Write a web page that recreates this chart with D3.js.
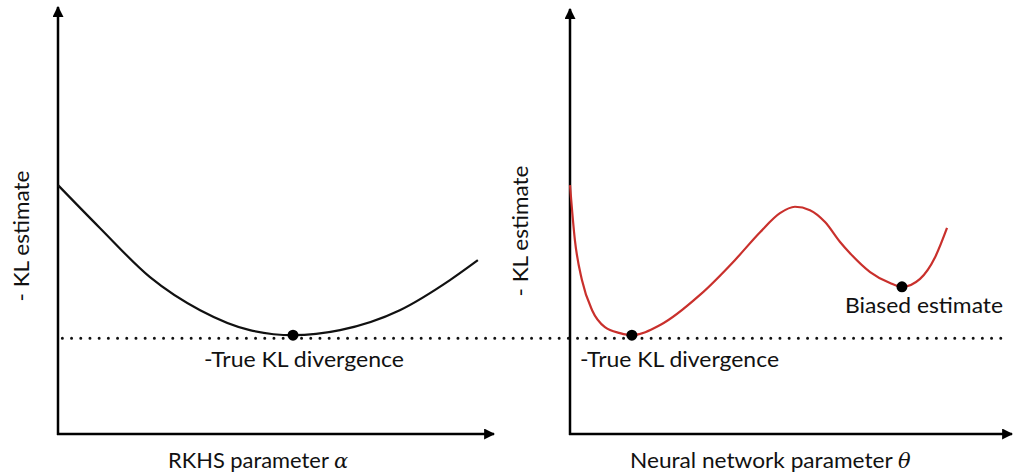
<!DOCTYPE html>
<html><head><meta charset="utf-8">
<script src="https://cdn.jsdelivr.net/npm/d3@7"></script>
<style>
html,body{margin:0;padding:0;background:#fff;}
text{font-family:Lato,"Open Sans",sans-serif;fill:#111;}
</style></head>
<body><svg id="chart" width="1013" height="474"></svg>
<script>
// Left panel: RKHS curve (x in parameter units, y in -KL estimate units)
const rkhsX = [0, 0.96, 2.11, 3.26, 4.40, 5.39, 6.47, 7.84, 8.99, 9.63];
const rkhsY = [5.87, 4.86, 3.70, 2.92, 2.45, 2.33, 2.45, 2.92, 3.63, 4.10];
// Right panel: neural network curve
const nnX = [0, 0.11, 0.27, 0.50, 0.79, 1.13, 1.40, 2.04, 2.94, 3.73, 4.30, 4.75, 5.09, 5.43, 5.77, 6.11, 6.33, 6.79, 7.24, 7.51, 7.92, 8.26, 8.53];
const nnY = [5.87, 4.58, 3.63, 2.92, 2.52, 2.38, 2.33, 2.57, 3.28, 4.10, 4.76, 5.21, 5.36, 5.28, 5.00, 4.53, 4.27, 3.82, 3.56, 3.47, 3.66, 4.17, 4.86];
const trueKL = 2.26;
const leftMinX = 5.39, leftMinY = 2.33;
const nnMinX = 1.40, nnMinY = 2.33;
const nnBiasX = 7.51, nnBiasY = 3.47;
const labels = {
  yLabel: "- KL estimate",
  trueKL: "-True KL divergence",
  biased: "Biased estimate"
};

const svg = d3.select("#chart");
const defs = svg.append("defs");
defs.append("marker").attr("id","arrow").attr("viewBox","0 0 10 10")
  .attr("refX",9).attr("refY",5).attr("markerWidth",4.4).attr("markerHeight",4.4)
  .attr("markerUnits","strokeWidth").attr("orient","auto")
  .append("path").attr("d","M0,0 L10,5 L0,10 Z").attr("fill","#000");

const y = d3.scaleLinear().domain([0,10]).range([434,10]);
const xL = d3.scaleLinear().domain([0,10]).range([58,494]);
const xR = d3.scaleLinear().domain([0,10]).range([570,1012]);

function axes(x, top){
  svg.append("line").attr("x1",x(0)).attr("y1",y(0)+1).attr("x2",x(0)).attr("y2",top)
    .attr("stroke","#000").attr("stroke-width",2.5).attr("marker-end","url(#arrow)");
  svg.append("line").attr("x1",x(0)-1).attr("y1",y(0)).attr("x2",x(10)).attr("y2",y(0))
    .attr("stroke","#000").attr("stroke-width",2.5).attr("marker-end","url(#arrow)");
}
axes(xL, 7);
axes(xR, 9);

// dotted true KL line
svg.append("line").attr("x1",xL(0.1)).attr("x2",xR(9.75))
  .attr("y1",y(trueKL)).attr("y2",y(trueKL))
  .attr("stroke","#111").attr("stroke-width",3).attr("stroke-linecap","round")
  .attr("stroke-dasharray","0 9.2");

const lineL = d3.line().x(d=>xL(d[0])).y(d=>y(d[1])).curve(d3.curveMonotoneX);
const lineR = d3.line().x(d=>xR(d[0])).y(d=>y(d[1])).curve(d3.curveMonotoneX);
svg.append("path").attr("d",lineL(d3.zip(rkhsX,rkhsY))).attr("fill","none")
  .attr("stroke","#111").attr("stroke-width",2.2);
svg.append("path").attr("d",lineR(d3.zip(nnX,nnY))).attr("fill","none")
  .attr("stroke","#c9302c").attr("stroke-width",2.2);

svg.append("circle").attr("cx",xL(leftMinX)).attr("cy",y(leftMinY)).attr("r",5.5).attr("fill","#000");
svg.append("circle").attr("cx",xR(nnMinX)).attr("cy",y(nnMinY)).attr("r",5.5).attr("fill","#000");
svg.append("circle").attr("cx",xR(nnBiasX)).attr("cy",y(nnBiasY)).attr("r",5.5).attr("fill","#000");

const fs = 21;
svg.append("text").attr("x",204).attr("y",367).attr("font-size",fs)
  .attr("textLength",200).attr("lengthAdjust","spacingAndGlyphs").text(labels.trueKL);
svg.append("text").attr("x",580).attr("y",367).attr("font-size",fs)
  .attr("textLength",199).attr("lengthAdjust","spacingAndGlyphs").text(labels.trueKL);
svg.append("text").attr("x",845).attr("y",313).attr("font-size",fs)
  .attr("textLength",158).attr("lengthAdjust","spacingAndGlyphs").text(labels.biased);

svg.append("text").attr("transform","translate(29,236) rotate(-90)").attr("text-anchor","middle")
  .attr("font-size",fs).attr("textLength",131).attr("lengthAdjust","spacingAndGlyphs").text(labels.yLabel);
svg.append("text").attr("transform","translate(528,231) rotate(-90)").attr("text-anchor","middle")
  .attr("font-size",fs).attr("textLength",131).attr("lengthAdjust","spacingAndGlyphs").text(labels.yLabel);

const xl1 = svg.append("text").attr("x",168).attr("y",468).attr("font-size",fs);
xl1.append("tspan").attr("textLength",166).attr("lengthAdjust","spacingAndGlyphs").text("RKHS parameter ");
xl1.append("tspan").attr("font-style","italic").attr("font-family","DejaVu Serif").text("α");
const xl2 = svg.append("text").attr("x",630).attr("y",468).attr("font-size",fs);
xl2.append("tspan").attr("textLength",268).attr("lengthAdjust","spacingAndGlyphs").text("Neural network parameter ");
xl2.append("tspan").attr("font-style","italic").attr("font-family","DejaVu Serif").text("θ");
</script></body></html>
